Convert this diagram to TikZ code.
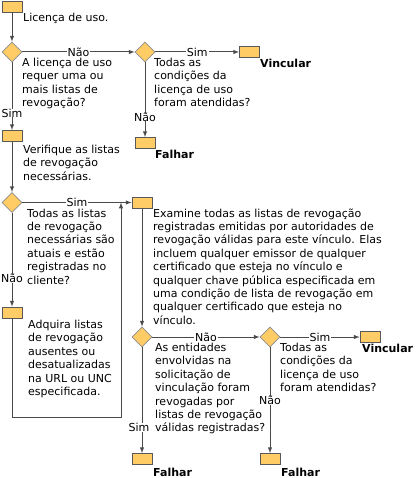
\documentclass[tikz,border=0pt]{standalone}
\usepackage{fontspec}
\setmainfont{DejaVu Sans}
\usetikzlibrary{arrows,shapes.geometric,positioning}
\definecolor{boxfill}{HTML}{FFCC66}
\definecolor{linegray}{HTML}{4A4A4A}
\newcommand{\txtfont}{\fontsize{11}{13.4}\selectfont}
\tikzset{
    stepsty/.style={draw=black!65,fill=boxfill,rectangle,minimum width=20pt,minimum height=11pt,inner sep=0pt,line width=0.8pt},
    decsty/.style={draw=black!45,fill=boxfill,diamond,minimum size=20pt,inner sep=0pt,line width=0.8pt},
    txtsty/.style={anchor=base west,align=left,inner sep=0pt,font=\txtfont},
    endsty/.style={anchor=base west,inner sep=0pt,font=\txtfont\bfseries},
    linesty/.style={draw=linegray,line width=1pt},
    lblsty/.style={fill=white,inner xsep=1pt,inner ysep=0pt,font=\txtfont},
}

\begin{document}
\begin{tikzpicture}[>=latex,x=1pt,y=-1pt]
\useasboundingbox (0,0) rectangle (416,478);

% steps and decisions (text nodes sit on the baseline of their last line)
\node[stepsty] (lic) at (12,7) {};
\node[txtsty] (lictxt) at (23,22) {Licença de uso.};
\node[decsty] (q1) at (12,52) {};
\node[txtsty] (q1txt) at (22,106.7) {A licença de uso\\requer uma ou\\mais listas de\\revogação?};
\node[decsty] (q2) at (145,52) {};
\node[txtsty] (q2txt) at (154,106.7) {Todas as\\condições da\\licença de uso\\foram atendidas?};
\node[stepsty] (bind1) at (249.5,52) {};
\node[endsty] (bind1txt) at (260,68) {Vincular};
\node[stepsty] (fail1) at (145,143) {};
\node[endsty] (fail1txt) at (155,159) {Falhar};
\node[stepsty] (check) at (12,136) {};
\node[txtsty] (checktxt) at (23,180.3) {Verifique as listas\\de revogação\\necessárias.};
\node[decsty] (q3) at (12,202.5) {};
\node[txtsty] (q3txt) at (27,284) {Todas as listas\\de revogação\\necessárias são\\atuais e estão\\registradas no\\cliente?};
\node[stepsty] (exam) at (142,202.5) {};
\node[txtsty] (examtxt) at (153,324.2) {Examine todas as listas de revogação\\registradas emitidas por autoridades de\\revogação válidas para este vínculo. Elas\\incluem qualquer emissor de qualquer\\certificado que esteja no vínculo e\\qualquer chave pública especificada em\\uma condição de lista de revogação em\\qualquer certificado que esteja no\\vínculo.};
\node[stepsty] (fetch) at (12,312.5) {};
\node[txtsty] (fetchtxt) at (28,395.5) {Adquira listas\\de revogação\\ausentes ou\\desatualizadas\\na URL ou UNC\\especificada.};
\node[decsty] (q4) at (142,337) {};
\node[txtsty] (q4txt) at (155,431.9) {As entidades\\envolvidas na\\solicitação de\\vinculação foram\\revogadas por\\listas de revogação\\válidas registradas?};
\node[decsty] (q5) at (270,337) {};
\node[txtsty] (q5txt) at (280,391.7) {Todas as\\condições da\\licença de uso\\foram atendidas?};
\node[stepsty] (bind2) at (370,337) {};
\node[endsty] (bind2txt) at (362,352) {Vincular};
\node[stepsty] (fail2) at (142,459) {};
\node[endsty] (fail2txt) at (153,476) {Falhar};
\node[stepsty] (fail3) at (270,459) {};
\node[endsty] (fail3txt) at (281,476) {Falhar};
\coordinate (loopc) at (121,417);

% connectors
\draw[linesty,->] (lic) -- (q1);
\draw[linesty,->] (q1) -- node[lblsty]{Não} (q2);
\draw[linesty,->] (q2) -- node[lblsty]{Sim} (bind1);
\draw[linesty,->] (q2) -- node[lblsty,pos=0.73]{Não} (fail1);
\draw[linesty,->] (q1) -- node[lblsty,pos=0.75]{Sim} (check);
\draw[linesty,->] (check) -- (q3);
\draw[linesty,->] (q3) -- node[lblsty]{Sim} (exam);
\draw[linesty,->] (q3) -- node[lblsty,pos=0.7]{Não} (fetch);
\draw[linesty,->] (fetch) |- (loopc) -- (loopc |- exam);
\draw[linesty,->] (exam) -- (q4);
\draw[linesty,->] (q4) -- node[lblsty]{Não} (q5);
\draw[linesty,->] (q5) -- node[lblsty]{Sim} (bind2);
\draw[linesty,->] (q4) -- node[lblsty,pos=0.76,xshift=-3pt]{Sim} (fail2);
\draw[linesty,->] (q5) -- node[lblsty,pos=0.5]{Não} (fail3);
\end{tikzpicture}
\end{document}
